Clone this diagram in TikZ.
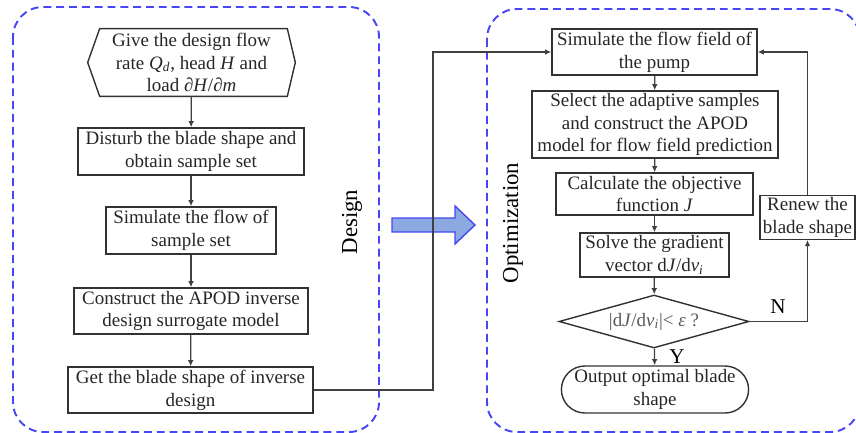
\documentclass[tikz,border=0pt]{standalone}
\usepackage{fontspec}
\setmainfont{Liberation Serif}
\usetikzlibrary{arrows.meta,shapes.geometric,shapes.misc}
\definecolor{frameblue}{RGB}{70,70,245}
\definecolor{arrowfill}{RGB}{140,170,225}
\definecolor{boxline}{RGB}{50,50,50}
\begin{document}
\begin{tikzpicture}[x=0.02cm, y=-0.02cm,
  frame/.style={draw=frameblue, line width=1.1pt, dash pattern=on 4.5pt off 2.8pt, rounded corners=0.6cm},
  box/.style={draw=boxline, line width=0.8pt, rectangle, align=center, inner sep=1pt, font=\fontsize{10.8}{13}\selectfont, text=black!85},
  hexa/.style={rectangle, align=center, inner sep=0pt, font=\fontsize{10.8}{13}\selectfont, text=black!85},
  decide/.style={draw=boxline, line width=0.8pt, diamond, shape aspect=3.6, inner sep=0pt, font=\fontsize{10.8}{13}\selectfont, text=black!65},
  term/.style={draw=boxline, line width=0.8pt, rounded rectangle, align=center, inner sep=1pt, font=\fontsize{10.8}{13}\selectfont, text=black!85},
  side/.style={rotate=90, font=\fontsize{13}{15}\selectfont},
  yesno/.style={font=\fontsize{12}{14}\selectfont},
  arr/.style={draw=black!75, line width=0.7pt, -{Latex[length=3.5pt,width=3.2pt]}}]
\useasboundingbox (0,0) rectangle (856,433);

% dashed frames
\draw[frame] (13,7) rectangle (379,432);
\draw[frame] (487,9) rectangle (860,432);

% design column
\node[hexa, minimum width=4.14cm, minimum height=1.34cm] (give) at (191.5,62.5) {Give the design flow\\rate \textit{Q}\textsubscript{\textit{d}}, head \textit{H} and\\load \textit{∂H}/\textit{∂m}};
\draw[draw=boxline, line width=0.8pt] (give.west) -- ([xshift=0.24cm]give.north west) -- ([xshift=-0.16cm]give.north east) -- (give.east) -- ([xshift=-0.16cm]give.south east) -- ([xshift=0.24cm]give.south west) -- cycle;
\node[box, minimum width=4.52cm, minimum height=0.94cm] (disturb) at (191,151.5) {Disturb the blade shape and\\obtain sample set};
\node[box, minimum width=3.4cm, minimum height=0.94cm] (samples) at (191,230.5) {Simulate the flow of\\sample set};
\node[box, minimum width=4.68cm, minimum height=0.92cm] (surrogate) at (191,311) {Construct the APOD inverse\\design surrogate model};
\node[box, minimum width=4.9cm, minimum height=0.92cm] (inverse) at (190.5,390) {Get the blade shape of inverse\\design};
\node[side] (design) at (352,222) {Design};

\draw[arr] (give) -- (disturb);
\draw[arr] (disturb) -- (samples);
\draw[arr] (samples) -- (surrogate);
\draw[arr] (surrogate) -- (inverse);

% big arrow between the frames
\fill[arrowfill, draw=frameblue, line width=0.8pt] (392,218) -- (455,218) -- (455,206) -- (475,225) -- (455,244) -- (455,232) -- (392,232) -- cycle;

% optimization column
\node[box, minimum width=4.1cm, minimum height=0.92cm] (flow) at (654.5,52) {Simulate the flow field of\\the pump};
\node[box, minimum width=4.92cm, minimum height=1.34cm] (apod) at (655,124.5) {Select the adaptive samples\\and construct the APOD\\model for flow field prediction};
\node[box, minimum width=3.94cm, minimum height=0.84cm] (objective) at (654.5,194) {Calculate the objective\\function \textit{J}};
\node[box, minimum width=2.98cm, minimum height=0.88cm] (gradient) at (654.5,255) {Solve the gradient\\vector d\textit{J}/d\textit{v}\textsubscript{\textit{i}}};
\node[decide, minimum width=3.8cm, minimum height=1.06cm] (check) at (654,321.5) {|d\textit{J}/d\textit{v}\textsubscript{\textit{i}}|< \textit{ε} ?};
\node[term, minimum width=3.6cm, minimum height=0.94cm] (output) at (655,389.5) {Output optimal blade\\shape};
\node[box, minimum width=1.9cm, minimum height=0.86cm] (renew) at (807.5,217.5) {Renew the\\blade shape};
\node[side] (optim) at (513,223) {Optimization};
\node[yesno] (no) at (778,307) {N};
\node[yesno] (yes) at (677,357) {Y};
\coordinate (turn) at (433,52);

\draw[arr] (flow) -- (apod);
\draw[arr] (apod) -- (objective);
\draw[arr] (objective) -- (gradient);
\draw[arr] (gradient) -- (check);
\draw[arr] (check) -- (output);
\draw[arr] (check.east) -| (renew.south);
\draw[arr] (renew.north) |- (flow.east);
\draw[arr] (inverse.east) -| (turn) -- (flow.west);
\end{tikzpicture}
\end{document}
